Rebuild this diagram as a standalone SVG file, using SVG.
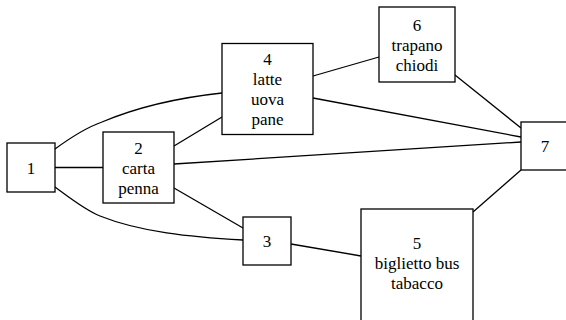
<svg xmlns="http://www.w3.org/2000/svg" width="566" height="320" viewBox="0 0 566 320">
<style>
.n rect{fill:#fff;stroke:#000;stroke-width:1.3}
.n text{font-family:'Liberation Serif','DejaVu Serif',serif;font-size:17px;fill:#000;text-anchor:middle}
.e path{fill:none;stroke:#000;stroke-width:1.3}
</style>
<rect width="566" height="320" fill="#fff"/>
<g id="edges" class="e">
<path d="M55,149 C70,138 85,128 102,122 C140,106 185,97 222,93"/>
<path d="M55,167.5 L103,167.5"/>
<path d="M55,187 C70,198 85,210 100,216 C140,232 190,237 243,240"/>
<path d="M174,146 L222,117"/>
<path d="M174,188 L243,228"/>
<path d="M174,164 L521,142"/>
<path d="M313,76 L379,57"/>
<path d="M313,98 L521,137"/>
<path d="M455,75 L521,128"/>
<path d="M291,244 L361,256"/>
<path d="M473,212 L521,170"/>
</g>
<g id="n1" class="n"><rect x="7" y="143" width="48" height="49"/><text x="31" y="173.5">1</text></g>
<g id="n2" class="n"><rect x="103" y="132" width="71" height="71"/><text x="138.5" y="153.5">2</text><text x="138.5" y="173.5">carta</text><text x="138.5" y="193.5">penna</text></g>
<g id="n3" class="n"><rect x="243" y="217" width="48" height="48"/><text x="267" y="247">3</text></g>
<g id="n4" class="n"><rect x="222" y="43.5" width="91" height="91"/><text x="267.5" y="65">4</text><text x="267.5" y="85">latte</text><text x="267.5" y="105">uova</text><text x="267.5" y="125">pane</text></g>
<g id="n5" class="n"><rect x="361" y="209" width="112" height="114"/><text x="417" y="249">5</text><text x="417" y="269">biglietto bus</text><text x="417" y="289">tabacco</text></g>
<g id="n6" class="n"><rect x="379" y="7" width="76" height="75"/><text x="417" y="30.5">6</text><text x="417" y="50.5">trapano</text><text x="417" y="70.5">chiodi</text></g>
<g id="n7" class="n"><rect x="521" y="122" width="48" height="48"/><text x="545" y="152">7</text></g>
</svg>
